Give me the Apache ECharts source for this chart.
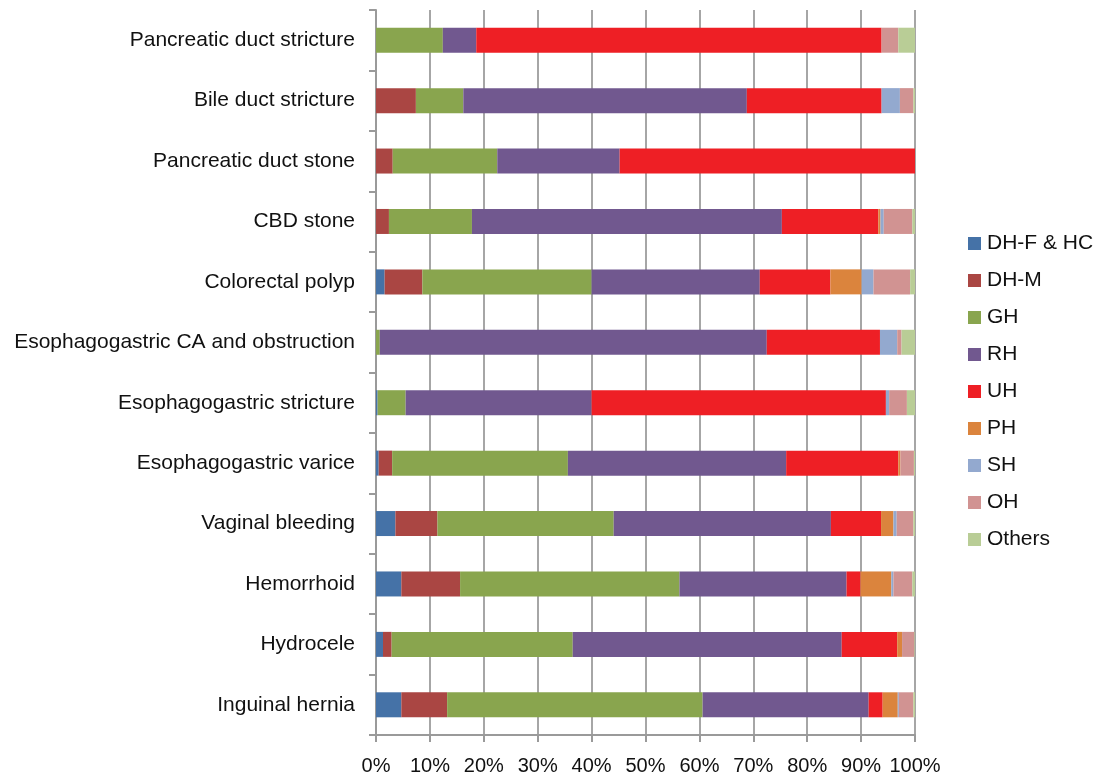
<!DOCTYPE html>
<html><head><meta charset="utf-8">
<script src="https://cdn.jsdelivr.net/npm/echarts@6/dist/echarts.min.js"></script>
<style>html,body{margin:0;padding:0;background:#fff}#c{width:1098px;height:777px}</style>
</head><body><div id="c"></div>
<script>
const categories = ["Pancreatic duct stricture","Bile duct stricture","Pancreatic duct stone","CBD stone","Colorectal polyp","Esophagogastric CA and obstruction","Esophagogastric stricture","Esophagogastric varice","Vaginal bleeding","Hemorrhoid","Hydrocele","Inguinal hernia"];
const seriesNames = ["DH-F & HC","DH-M","GH","RH","UH","PH","SH","OH","Others"];
const colors = ["#4572A7","#AA4643","#89A54E","#71588F","#EE1F25","#DB843D","#93A9CF","#D19392","#B9CD96"];
const dhf   = [0,   0,   0,   0,   1.6, 0,   0.3, 0.5, 3.6, 4.7, 1.3, 4.7];
const dhm   = [0,   7.4, 3.1, 2.4, 7.0, 0,   0,   2.5, 7.8, 10.9,1.6, 8.5];
const gh    = [12.4,8.8, 19.4,15.4,31.4,0.7, 5.2, 32.6,32.7,40.7,33.6,47.4];
const rh    = [6.2, 52.6,22.7,57.5,31.2,71.8,34.5,40.5,40.3,31.0,49.9,30.8];
const uh    = [75.2,25.0,54.8,17.9,13.1,21.0,54.6,20.8,9.3, 2.6, 10.3,2.6];
const ph    = [0,   0,   0,   0.4, 5.8, 0,   0,   0.4, 2.3, 5.7, 0.9, 2.8];
const sh    = [0,   3.4, 0,   0.6, 2.2, 3.2, 0.6, 0,   0.6, 0.4, 0,   0.2];
const oh    = [3.1, 2.5, 0,   5.3, 6.8, 0.8, 3.3, 2.5, 3.1, 3.5, 2.3, 2.7];
const others= [3.1, 0.4, 0,   0.5, 0.9, 2.5, 1.5, 0.2, 0.3, 0.5, 0.1, 0.3];
const xTicks = [0,10,20,30,40,50,60,70,80,90,100];
const allData = [dhf,dhm,gh,rh,uh,ph,sh,oh,others];

const chart = echarts.init(document.getElementById('c'));
const font = 'Liberation Sans, Arial, sans-serif';
chart.setOption({
  animation:false,
  color:colors,
  grid:{left:376,right:183,top:10,bottom:42,containLabel:false},
  legend:{
    orient:'vertical', left:963, top:228, itemGap:16, itemWidth:13, itemHeight:13,
    icon:'rect', data:seriesNames,
    textStyle:{fontSize:21,lineHeight:21,color:'#111',fontFamily:font,padding:[0,0,0,1]}
  },
  xAxis:{
    type:'value', min:0, max:100, interval:10,
    axisLine:{show:true,lineStyle:{color:'#9a9a9a',width:2}},
    axisTick:{show:true,length:7,lineStyle:{color:'#9a9a9a',width:2}},
    splitLine:{show:true,lineStyle:{color:'#a6a6a6',width:2}},
    axisLabel:{formatter:'{value}%',fontSize:20,color:'#111',fontFamily:font,margin:21}
  },
  yAxis:{
    type:'category', data:categories, inverse:true,
    axisLine:{show:true,lineStyle:{color:'#9a9a9a',width:2}},
    axisTick:{show:true,length:7,lineStyle:{color:'#9a9a9a',width:2}},
    axisLabel:{fontSize:21,color:'#111',fontFamily:font,margin:21}
  },
  series: seriesNames.map((n,i)=>({
    name:n, type:'bar', stack:'total', barWidth:25,
    data: allData[i],
    itemStyle:{color:colors[i]}
  }))
});
</script></body></html>
